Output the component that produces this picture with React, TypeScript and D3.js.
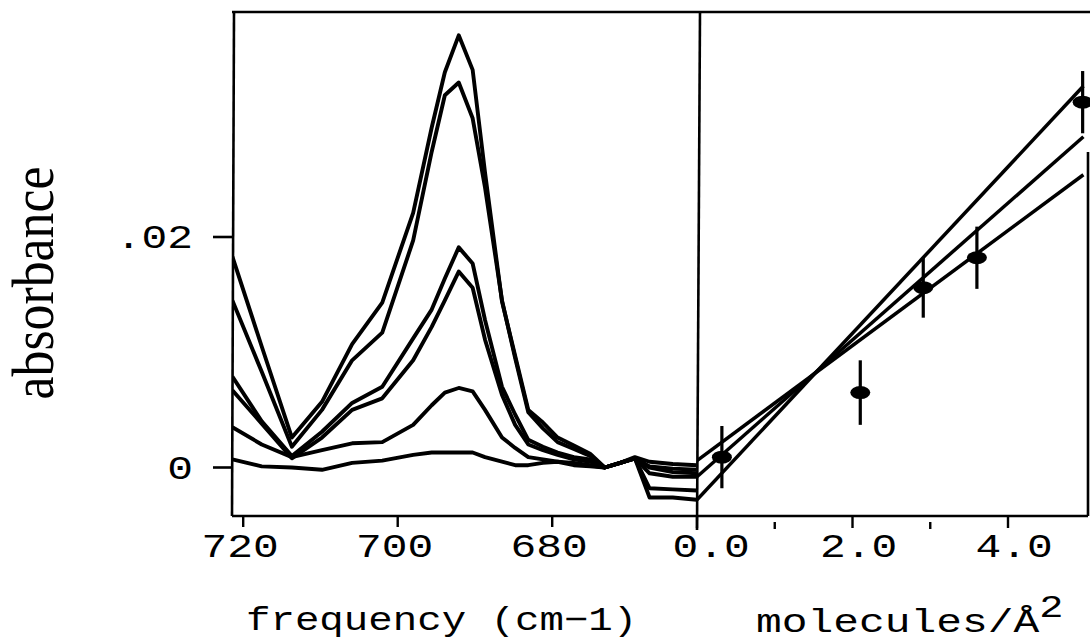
import React from 'react';
import * as d3 from 'd3';

// ---------- left panel: IR spectra ----------
const frequency = [721.4, 717.6, 713.7, 709.8, 705.9, 702.0, 698.0, 695.6, 693.9, 692.1, 690.3, 688.7, 686.5, 684.8, 683.1, 681.2, 679.3, 677.2, 675.1, 673.2, 671.2, 669.3, 667.4, 664.4, 661.3];

const spectrum1 = [0.0183, 0.0105, 0.0026, 0.0057, 0.0107, 0.0143, 0.0221, 0.0295, 0.0343, 0.0375, 0.0345, 0.0256, 0.0144, 0.0097, 0.0050, 0.0039, 0.0026, 0.0019, 0.0012, 0.0000, 0.0004, 0.0008, -0.0026, -0.0026, -0.0028];
const spectrum2 = [0.0145, 0.0083, 0.0018, 0.0050, 0.0093, 0.0117, 0.0197, 0.0274, 0.0323, 0.0334, 0.0303, 0.0243, 0.0145, 0.0095, 0.0048, 0.0034, 0.0022, 0.0016, 0.0010, 0.0000, 0.0004, 0.0008, -0.0018, -0.0019, -0.0020];
const spectrum3 = [0.0079, 0.0040, 0.0010, 0.0031, 0.0056, 0.0070, 0.0112, 0.0137, 0.0164, 0.0191, 0.0177, 0.0128, 0.0070, 0.0046, 0.0024, 0.0018, 0.0013, 0.0009, 0.0007, 0.0000, 0.0004, 0.0008, -0.0005, -0.0008, -0.0008];
const spectrum4 = [0.0067, 0.0038, 0.0008, 0.0026, 0.0050, 0.0060, 0.0093, 0.0122, 0.0145, 0.0170, 0.0156, 0.0111, 0.0063, 0.0037, 0.0020, 0.0015, 0.0011, 0.0007, 0.0005, 0.0000, 0.0004, 0.0008, 0.0000, -0.0004, -0.0005];
const spectrum5 = [0.0035, 0.0020, 0.0009, 0.0015, 0.0021, 0.0022, 0.0037, 0.0054, 0.0065, 0.0069, 0.0066, 0.0050, 0.0026, 0.0017, 0.0009, 0.0007, 0.0005, 0.0002, 0.0001, 0.0000, 0.0004, 0.0008, 0.0001, -0.0001, -0.0002];
const spectrum6 = [0.0007, 0.0001, 0.0000, -0.0002, 0.0004, 0.0006, 0.0011, 0.0013, 0.0013, 0.0013, 0.0013, 0.0009, 0.0005, 0.0002, 0.0002, 0.0004, 0.0005, 0.0004, 0.0002, 0.0000, 0.0004, 0.0009, 0.0005, 0.0003, 0.0002];
const spectra = [spectrum1, spectrum2, spectrum3, spectrum4, spectrum5, spectrum6];

const freqTicks = [720, 700, 680];
const freqTickLabels = ['720', '700', '680'];

// ---------- right panel: band intensity vs coverage ----------
const coverage = [0.32, 2.10, 2.91, 3.60, 4.96];
const measuredAbsorbance = [0.0009, 0.0065, 0.0156, 0.0182, 0.0317];
const errorHalfWidth = [0.0027, 0.0028, 0.0026, 0.0027, 0.0027];

const fitX = [0, 4.97];
const fitLineA = [-0.0028, 0.0331];
const fitLineB = [-0.0008, 0.0287];
const fitLineC = [0.0006, 0.0254];
const fitLines = [fitLineA, fitLineB, fitLineC];

const coverageMajorTicks = [0, 2, 4];
const coverageMinorTicks = [1, 3];
const coverageTickLabels = ['0.0', '2.0', '4.0'];

const absorbanceTicks = [0, 0.02];
const absorbanceTickLabels = ['0', '.02'];

export default function App() {
  const top = 12;
  const bottom = 516;
  const leftX = 232;
  const midX = 697;
  const rightX = 1088;

  const xL = d3.scaleLinear().domain([721.45, 661.26]).range([leftX, midX]);
  const xR = d3.scaleLinear().domain([0, 4]).range([midX, 1008]);
  const y = d3.scaleLinear().domain([0, 0.02]).range([467.5, 237]);

  const specLine = d3
    .line<number>()
    .x((_, i) => xL(frequency[i]))
    .y((d) => y(d));

  const fitLine = d3
    .line<number>()
    .x((_, i) => xR(fitX[i]))
    .y((d) => y(d));

  const mono = "'Liberation Mono', 'DejaVu Sans Mono', monospace";
  const sx = 1.3;
  const fs = 33;

  return (
    <svg
      width={1090}
      height={644}
      style={{ position: 'absolute', left: 0, top: 0, background: '#fff' }}
    >
      <defs>
        <clipPath id="clipL">
          <rect x={leftX} y={top} width={midX - leftX} height={bottom - top} />
        </clipPath>
        <clipPath id="clipR">
          <rect x={midX} y={top} width={rightX - midX + 2} height={bottom - top} />
        </clipPath>
      </defs>

      {/* spectra */}
      <g clipPath="url(#clipL)">
        {spectra.map((s, k) => (
          <path
            key={k}
            d={specLine(s) || ''}
            fill="none"
            stroke="#000"
            strokeWidth={3.9}
            strokeLinejoin="round"
          />
        ))}
      </g>

      {/* right panel */}
      <g clipPath="url(#clipR)">
        {fitLines.map((l, k) => (
          <path key={k} d={fitLine(l) || ''} fill="none" stroke="#000" strokeWidth={3.5} />
        ))}
        {coverage.map((c, i) => (
          <g key={i}>
            <line
              x1={xR(c)}
              x2={xR(c)}
              y1={y(measuredAbsorbance[i] - errorHalfWidth[i])}
              y2={y(measuredAbsorbance[i] + errorHalfWidth[i])}
              stroke="#000"
              strokeWidth={3.2}
            />
            <ellipse cx={xR(c)} cy={y(measuredAbsorbance[i])} rx={10} ry={6.5} fill="#000" />
          </g>
        ))}
      </g>

      {/* frame */}
      <g fill="none" stroke="#000" strokeWidth={2.6}>
        <line x1={leftX} x2={rightX + 2} y1={top} y2={top} />
        <line x1={leftX} x2={rightX} y1={bottom} y2={bottom} />
        <line x1={leftX + 2} x2={leftX} y1={top} y2={bottom} />
        <line x1={midX + 3} x2={midX} y1={top} y2={bottom + 14} />
        <line x1={rightX} x2={rightX} y1={152} y2={bottom} />
      </g>

      {/* y ticks */}
      {absorbanceTicks.map((t, i) => (
        <g key={i}>
          <line x1={213} x2={leftX} y1={y(t)} y2={y(t)} stroke="#000" strokeWidth={2.6} />
          <text
            transform={`translate(193,${y(t) + 11}) scale(${sx},1)`}
            textAnchor="end"
            fontFamily={mono}
            fontSize={fs}
          >
            {absorbanceTickLabels[i]}
          </text>
        </g>
      ))}

      {/* x ticks left */}
      {freqTicks.map((t, i) => (
        <g key={i}>
          <line x1={xL(t)} x2={xL(t)} y1={bottom} y2={bottom + 11} stroke="#000" strokeWidth={2.4} />
          <text
            transform={`translate(${xL(t) - 3},557) scale(${sx},1)`}
            textAnchor="middle"
            fontFamily={mono}
            fontSize={fs}
          >
            {freqTickLabels[i]}
          </text>
        </g>
      ))}

      {/* x ticks right */}
      {coverageMajorTicks.map((t, i) => (
        <g key={i}>
          <line x1={xR(t)} x2={xR(t)} y1={bottom} y2={bottom + 12} stroke="#000" strokeWidth={2.4} />
          <text
            transform={`translate(${xR(t) + (t === 0 ? 14 : 6)},557) scale(${sx},1)`}
            textAnchor="middle"
            fontFamily={mono}
            fontSize={fs}
          >
            {coverageTickLabels[i]}
          </text>
        </g>
      ))}
      {coverageMinorTicks.map((t, i) => (
        <line key={i} x1={xR(t)} x2={xR(t)} y1={bottom + 6} y2={bottom + 13} stroke="#000" strokeWidth={2.4} />
      ))}

      {/* axis titles */}
      <text
        transform={`translate(53,283) rotate(-90)`}
        textAnchor="middle"
        fontFamily="'Liberation Serif', 'DejaVu Serif', serif"
        fontSize={60}
        textLength={233}
        lengthAdjust="spacingAndGlyphs"
      >
        absorbance
      </text>
      <text
        transform={`translate(246,630) scale(${sx * 0.95},1)`}
        fontFamily={mono}
        fontSize={fs}
      >
        frequency (cm−1)
      </text>
      <text
        transform={`translate(756,632) scale(${sx},1)`}
        fontFamily={mono}
        fontSize={fs}
      >
        molecules/Å
        <tspan dy={-15} fontSize={31}>2</tspan>
      </text>
    </svg>
  );
}
